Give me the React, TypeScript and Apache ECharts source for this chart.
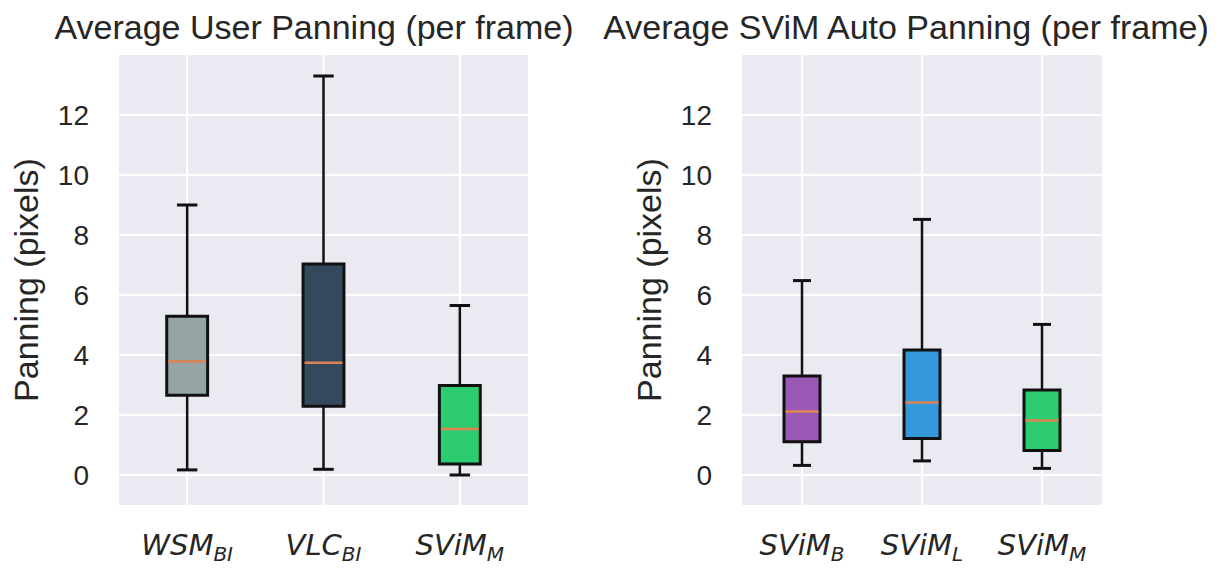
import React, { useEffect, useRef } from 'react';
import * as echarts from 'echarts';

// ---- Data ----
const leftTitle = 'Average User Panning (per frame)';
const rightTitle = 'Average SViM Auto Panning (per frame)';
const yAxisName = 'Panning (pixels)';

const leftCategories = ['WSM_BI', 'VLC_BI', 'SViM_M'];
const leftMin = [0.17, 0.19, 0.0];
const leftQ1 = [2.66, 2.29, 0.37];
const leftMedian = [3.78, 3.74, 1.53];
const leftQ3 = [5.29, 7.03, 2.98];
const leftMax = [9.0, 13.3, 5.65];
const leftColors = ['#95a5a6', '#34495e', '#2ecc71'];

const rightCategories = ['SViM_B', 'SViM_L', 'SViM_M'];
const rightMin = [0.32, 0.47, 0.22];
const rightQ1 = [1.11, 1.22, 0.82];
const rightMedian = [2.12, 2.42, 1.82];
const rightQ3 = [3.3, 4.17, 2.83];
const rightMax = [6.48, 8.52, 5.02];
const rightColors = ['#9b59b6', '#3498db', '#2ecc71'];

const yTicks = [0, 2, 4, 6, 8, 10, 12];

const TEXT = '#262626';
const SANS = '"Liberation Sans", Arial, sans-serif';
const MATH = '"DejaVu Sans", sans-serif';
const MEDIAN = '#dd8452';

function boxData(mins: number[], q1: number[], med: number[], q3: number[], max: number[]) {
  return mins.map((m, i) => [i, m, q1[i], med[i], q3[i], max[i]]);
}

function makeBoxRender(colors: string[]) {
  return (params: any, api: any) => {
    const idx = api.value(0);
    const band = api.size([1, 0])[0];
    const bw = band * 0.3;
    const cw = bw * 0.5;
    const pMin = api.coord([idx, api.value(1)]);
    const pQ1 = api.coord([idx, api.value(2)]);
    const pMed = api.coord([idx, api.value(3)]);
    const pQ3 = api.coord([idx, api.value(4)]);
    const pMax = api.coord([idx, api.value(5)]);
    const cx = pMin[0];
    const stroke = { stroke: '#111111', lineWidth: 2.5 };
    return {
      type: 'group',
      children: [
        { type: 'line', shape: { x1: cx, y1: pQ3[1], x2: cx, y2: pMax[1] }, style: stroke },
        { type: 'line', shape: { x1: cx, y1: pQ1[1], x2: cx, y2: pMin[1] }, style: stroke },
        { type: 'line', shape: { x1: cx - cw / 2, y1: pMax[1], x2: cx + cw / 2, y2: pMax[1] }, style: { stroke: '#111111', lineWidth: 3 } },
        { type: 'line', shape: { x1: cx - cw / 2, y1: pMin[1], x2: cx + cw / 2, y2: pMin[1] }, style: { stroke: '#111111', lineWidth: 3 } },
        {
          type: 'rect',
          shape: { x: cx - bw / 2, y: pQ3[1], width: bw, height: pQ1[1] - pQ3[1] },
          style: { fill: colors[idx], stroke: '#111111', lineWidth: 3 },
        },
        {
          type: 'line',
          shape: { x1: cx - bw / 2 + 1.5, y1: pMed[1], x2: cx + bw / 2 - 1.5, y2: pMed[1] },
          style: { stroke: MEDIAN, lineWidth: 2.5 },
        },
      ],
    };
  };
}

const hGridRender = (params: any, api: any) => {
  const cs = params.coordSys;
  const y = api.coord([0, api.value(1)])[1];
  return {
    type: 'line',
    shape: { x1: cs.x, y1: y, x2: cs.x + cs.width, y2: y },
    style: { stroke: '#ffffff', lineWidth: 2 },
  };
};

const vGridRender = (params: any, api: any) => {
  const cs = params.coordSys;
  const x = api.coord([api.value(0), 0])[0];
  return {
    type: 'line',
    shape: { x1: x, y1: cs.y, x2: x, y2: cs.y + cs.height },
    style: { stroke: '#ffffff', lineWidth: 2 },
  };
};

function labelFormatter(v: string) {
  const [main, sub] = v.split('_');
  return `{m|${main}}{s|${sub}}`;
}

const rich = {
  m: { fontSize: 29, fontStyle: 'italic', fontFamily: MATH, color: TEXT },
  s: { fontSize: 20, fontStyle: 'italic', fontFamily: MATH, color: TEXT, padding: [18, 0, 0, 0] },
};

function xAxisFor(gridIndex: number, cats: string[]) {
  return {
    type: 'category',
    gridIndex,
    data: cats,
    boundaryGap: true,
    axisLine: { show: false },
    axisTick: { show: false },
    splitLine: { show: false },
    axisLabel: { margin: 21, formatter: labelFormatter, rich, interval: 0 },
  };
}

function yAxisFor(gridIndex: number) {
  return {
    type: 'value',
    gridIndex,
    min: -1,
    max: 14,
    axisLine: { show: false },
    axisTick: { show: false, customValues: yTicks },
    splitLine: { show: false },
    axisLabel: { customValues: yTicks, fontSize: 28, color: TEXT, fontFamily: SANS, margin: 30 },
    name: yAxisName,
    nameLocation: 'middle',
    nameGap: 76,
    nameTextStyle: { fontSize: 34, color: TEXT, fontFamily: SANS },
  };
}

export default function App() {
  const ref = useRef<HTMLDivElement>(null);
  useEffect(() => {
    document.body.style.margin = '0';
    if (!ref.current) return;
    const chart = echarts.init(ref.current, undefined, { renderer: 'svg' });
    const hData0 = yTicks.map((v) => [0, v]);
    const vData0 = leftCategories.map((_, i) => [i, 0]);
    const vData1 = rightCategories.map((_, i) => [i, 0]);
    chart.setOption({
      animation: false,
      backgroundColor: '#ffffff',
      grid: [
        { left: 119, top: 55, width: 409, height: 450, show: true, backgroundColor: '#eaeaf2', borderWidth: 0 },
        { left: 742, top: 55, width: 360, height: 450, show: true, backgroundColor: '#eaeaf2', borderWidth: 0 },
      ],
      graphic: [
        {
          type: 'text',
          x: 314,
          y: 27,
          style: { text: leftTitle, fontSize: 34, fill: TEXT, fontFamily: SANS, textAlign: 'center', textVerticalAlign: 'middle' },
        },
        {
          type: 'text',
          x: 906,
          y: 27,
          style: { text: rightTitle, fontSize: 34, fill: TEXT, fontFamily: SANS, textAlign: 'center', textVerticalAlign: 'middle' },
        },
      ],
      xAxis: [xAxisFor(0, leftCategories), xAxisFor(1, rightCategories)],
      yAxis: [yAxisFor(0), yAxisFor(1)],
      series: [
        { type: 'custom', xAxisIndex: 0, yAxisIndex: 0, data: hData0, renderItem: hGridRender, z: 1, silent: true, encode: { x: 0, y: 1 } },
        { type: 'custom', xAxisIndex: 0, yAxisIndex: 0, data: vData0, renderItem: vGridRender, z: 1, silent: true, encode: { x: 0, y: 1 } },
        { type: 'custom', xAxisIndex: 1, yAxisIndex: 1, data: hData0, renderItem: hGridRender, z: 1, silent: true, encode: { x: 0, y: 1 } },
        { type: 'custom', xAxisIndex: 1, yAxisIndex: 1, data: vData1, renderItem: vGridRender, z: 1, silent: true, encode: { x: 0, y: 1 } },
        {
          type: 'custom',
          xAxisIndex: 0,
          yAxisIndex: 0,
          data: boxData(leftMin, leftQ1, leftMedian, leftQ3, leftMax),
          renderItem: makeBoxRender(leftColors),
          encode: { x: 0, y: [1, 2, 3, 4, 5] },
          z: 3,
          silent: true,
        },
        {
          type: 'custom',
          xAxisIndex: 1,
          yAxisIndex: 1,
          data: boxData(rightMin, rightQ1, rightMedian, rightQ3, rightMax),
          renderItem: makeBoxRender(rightColors),
          encode: { x: 0, y: [1, 2, 3, 4, 5] },
          z: 3,
          silent: true,
        },
      ],
    });
    return () => chart.dispose();
  }, []);
  return <div ref={ref} style={{ width: 1231, height: 568 }} />;
}
